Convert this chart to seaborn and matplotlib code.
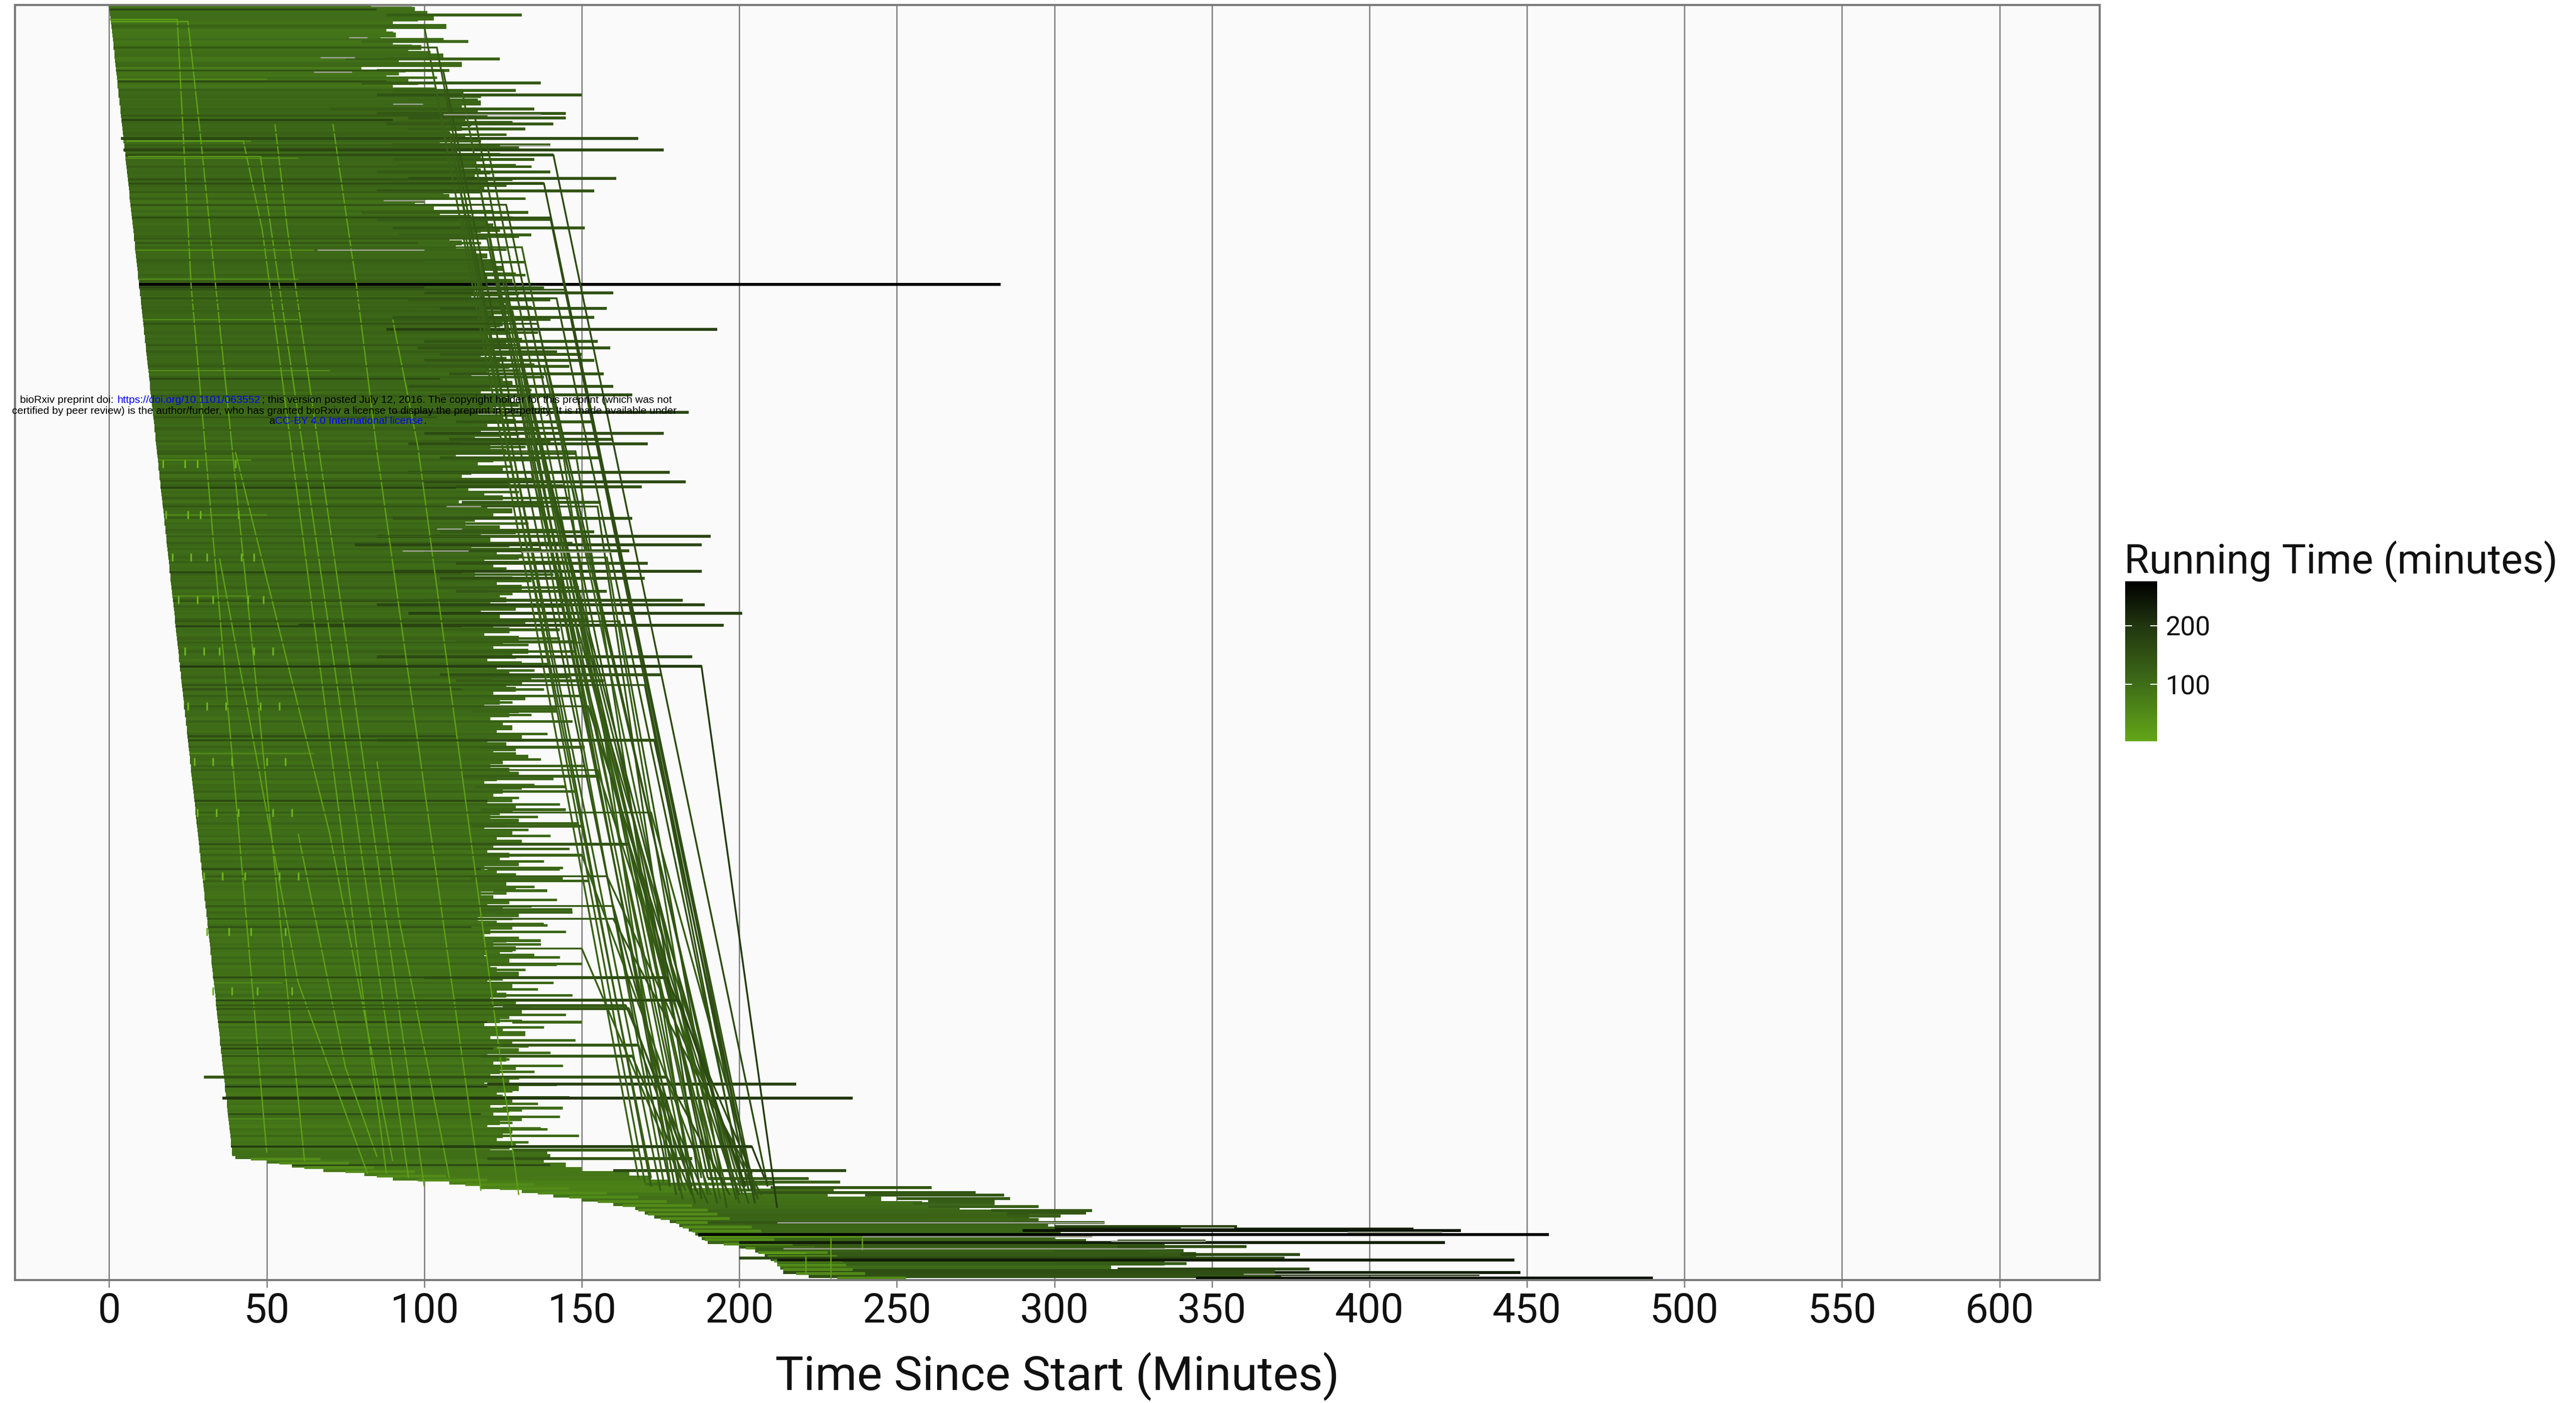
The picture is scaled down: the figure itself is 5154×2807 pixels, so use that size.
import numpy as np
import pandas as pd
import matplotlib
matplotlib.use("Agg")
import matplotlib.pyplot as plt
from matplotlib.colors import LinearSegmentedColormap, Normalize
from matplotlib.cm import ScalarMappable
import seaborn as sns

# Each queue row: when its first task started and where the solid part ends (minutes)
body_start = [
    0.0, 0.1, 0.3, 0.4, 0.6, 0.7, 0.9, 1.0, 1.2, 1.3, 1.4, 1.6, 1.7, 1.9, 2.0, 2.2, 2.3, 2.5, 2.6, 2.7,
    2.9, 3.0, 3.2, 3.3, 3.5, 3.6, 3.8, 3.9, 4.0, 4.2, 4.3, 4.5, 4.6, 4.8, 4.9, 5.1, 5.2, 5.3, 5.5, 5.6,
    5.8, 5.9, 6.1, 6.2, 6.4, 6.5, 6.6, 6.8, 6.9, 7.1, 7.2, 7.4, 7.5, 7.7, 7.8, 7.9, 8.1, 8.2, 8.4, 8.5,
    8.7, 8.8, 9.0, 9.1, 9.2, 9.4, 9.5, 9.7, 9.8, 10.0, 10.1, 10.3, 10.4, 10.5, 10.7, 10.8, 11.0, 11.1, 11.3, 11.4,
    11.6, 11.7, 11.8, 12.0, 12.1, 12.3, 12.4, 12.6, 12.7, 12.9, 13.0, 13.1, 13.3, 13.4, 13.6, 13.7, 13.9, 14.0, 14.2, 14.3,
    14.4, 14.6, 14.7, 14.9, 15.0, 15.2, 15.3, 15.5, 15.6, 15.7, 15.9, 16.0, 16.2, 16.3, 16.5, 16.6, 16.8, 16.9, 17.0, 17.2,
    17.3, 17.5, 17.6, 17.8, 17.9, 18.1, 18.2, 18.3, 18.5, 18.6, 18.8, 18.9, 19.1, 19.2, 19.4, 19.5, 19.6, 19.8, 19.9, 20.1,
    20.2, 20.4, 20.5, 20.7, 20.8, 20.9, 21.1, 21.2, 21.4, 21.5, 21.7, 21.8, 22.0, 22.1, 22.2, 22.4, 22.5, 22.7, 22.8, 23.0,
    23.1, 23.3, 23.4, 23.5, 23.7, 23.8, 24.0, 24.1, 24.3, 24.4, 24.6, 24.7, 24.8, 25.0, 25.1, 25.3, 25.4, 25.6, 25.7, 25.9,
    26.0, 26.1, 26.3, 26.4, 26.6, 26.7, 26.9, 27.0, 27.2, 27.3, 27.4, 27.6, 27.7, 27.9, 28.0, 28.2, 28.3, 28.5, 28.6, 28.7,
    28.9, 29.0, 29.2, 29.3, 29.5, 29.6, 29.8, 29.9, 30.0, 30.2, 30.3, 30.5, 30.6, 30.8, 30.9, 31.1, 31.2, 31.3, 31.5, 31.6,
    31.8, 31.9, 32.1, 32.2, 32.4, 32.5, 32.6, 32.8, 32.9, 33.1, 33.2, 33.4, 33.5, 33.7, 33.8, 33.9, 34.1, 34.2, 34.4, 34.5,
    34.7, 34.8, 35.0, 35.1, 35.2, 35.4, 35.5, 35.7, 35.8, 36.0, 36.1, 36.3, 36.4, 36.5, 36.7, 36.8, 37.0, 37.1, 37.3, 37.4,
    37.6, 37.7, 37.8, 38.0, 38.1, 38.3, 38.4, 38.6, 38.7, 38.9, 39.0, 40.0, 50.0, 58.0, 68.0, 81.0, 90.0, 108.0, 118.0, 131.0,
    141.0, 150.0, 160.0, 167.0, 170.0, 173.0, 178.0, 181.0, 184.0, 186.0, 188.0, 190.0, 200.0, 205.0, 208.0, 210.0, 212.0, 213.0, 214.0, 222.0,
    240.0,
]
body_end = [
    96, 97, 101, 103, 90, 107, 88, 91, 86, 90, 99, 95, 106, 92, 112, 80, 92, 88, 95, 90,
    104, 112, 108, 118, 112, 117, 108, 113, 115, 112, 108, 113, 105, 110, 108, 110, 118, 116, 112, 118,
    116, 120, 115, 119, 106, 108, 100, 97, 103, 105, 115, 120, 122, 118, 116, 108, 112, 110, 116, 120,
    118, 122, 125, 119, 120, 128, 120, 116, 124, 115, 124, 126, 118, 122, 128, 125, 121, 127, 120, 123,
    126, 122, 128, 118, 124, 127, 120, 115, 125, 128, 121, 118, 123, 127, 130, 122, 117, 125, 129, 120,
    118, 124, 116, 112, 121, 126, 110, 122, 117, 125, 115, 112, 123, 127, 114, 119, 125, 111, 120, 128,
    122, 116, 113, 124, 129, 118, 121, 127, 115, 123, 130, 119, 122, 125, 116, 128, 123, 131, 120, 124,
    126, 121, 129, 118, 124, 132, 122, 127, 119, 130, 125, 122, 133, 128, 120, 131, 123, 127, 134, 121,
    126, 129, 122, 132, 124, 119, 130, 127, 121, 125, 128, 123, 131, 120, 126, 129, 122, 133, 125, 121,
    127, 130, 123, 119, 131, 125, 122, 128, 120, 129, 124, 121, 130, 126, 119, 128, 123, 131, 122, 120,
    127, 124, 130, 119, 123, 128, 121, 126, 129, 118, 122, 127, 120, 125, 130, 117, 123, 128, 121, 119,
    126, 122, 129, 124, 119, 127, 121, 123, 130, 125, 120, 128, 123, 126, 121, 129, 122, 131, 127, 124,
    119, 125, 132, 121, 128, 123, 130, 120, 126, 122, 129, 124, 121, 127, 119, 130, 123, 125, 128, 121,
    127, 122, 131, 124, 120, 128, 125, 123, 129, 121, 139, 140, 138, 145, 150, 165, 172, 178, 185, 200,
    228, 245, 258, 270, 285, 292, 295, 298, 300, 302, 300, 310, 335, 330, 345, 340, 335, 318, 370, 372,
    245,
]

# Thinner full rows between the solid ones, these make the frayed right side
fringe_end = [
    92, 100, 98, 104, 90, 106, 96, 102, 88, 110, 94, 104, 98, 112,
    118, 112, 124, 120, 128, 122, 126, 118, 130, 124, 119, 134, 121, 128,
    126, 118, 132, 114, 122, 128, 112, 124, 130, 118, 126, 116, 132,
    125, 132, 128, 138, 130, 126, 134, 128, 140, 124, 136, 131, 128, 142, 126, 135, 130, 138, 128, 134, 141, 127, 136, 132, 126, 143, 130,
    140, 132, 148, 136, 128, 152, 135, 144, 130, 146, 138, 127, 150, 133, 142, 129, 147, 137, 131, 145,
    126, 141, 134, 149, 128, 139, 144, 130, 152, 136, 127, 143, 133, 148, 129, 140, 135, 146, 131, 138,
    150, 128, 142, 134, 147, 126, 139, 132, 145, 129, 137, 151, 127, 141, 135, 148, 130, 143, 128, 136,
    149, 133, 140, 127, 146, 131, 138, 144, 129, 152, 135, 126, 142, 134, 147, 128, 139, 145, 130, 137,
    128, 143, 150, 132, 127, 141, 136, 147, 129, 134, 145, 131, 138, 126, 148, 133, 140, 127, 144, 135,
    130, 142, 128, 146, 136, 131, 143, 128, 139, 149, 133, 127, 137,
]

# Rows that stick out past the solid part
tip_rank = [
    2.4, 8.6, 12.7, 15.4, 18.3, 20.1, 21.2, 22.4, 24.5, 25.5, 26.6, 28.0, 29.2, 31.4, 32.9, 34.1, 35.3, 36.3, 37.7, 39.3,
    40.8, 42.0, 43.7, 48.8, 50.5, 52.5, 54.1, 60.3, 63.3, 65.7, 67.7, 69.4, 71.4, 73.5, 76.3, 79.2, 80.7, 82.2, 83.6, 85.0,
    86.8, 89.7, 91.7, 95.9, 98.1, 100.8, 102.2, 103.2, 106.5, 110.0, 112.2, 113.4, 117.0, 120.8, 123.9, 125.0, 127.0, 128.4, 131.4, 133.3,
    134.9, 138.0, 140.1, 141.1, 143.1, 146.0, 147.0, 149.8, 153.4, 155.6, 157.6, 159.0, 166.2, 173.0, 174.6, 181.5, 183.9, 189.3, 193.2, 197.4,
    200.0, 203.3, 205.6, 208.4, 212.9, 216.3, 220.2, 223.6, 225.8, 228.8, 234.2, 235.4, 236.2, 239.3, 244.7, 247.3, 252.2, 253.9, 257.2, 259.6,
    264.4, 268.6, 269.4, 271.4, 274.3, 276.1, 276.9, 277.4, 278.2, 278.8, 279.4, 280.0, 280.8, 281.4, 282.0, 282.7, 283.7, 284.3, 284.9, 285.9,
    286.5, 287.4, 288.0, 288.4, 289.3, 290.8, 291.2, 292.1, 292.6, 293.1, 294.0, 294.8, 295.3, 296.1, 297.4, 298.2, 298.7, 299.5,
]
tip_start = [
    88, 80, 75, 85, 80, 90, 85, 95, 70, 85, 95, 88, 95, 3.8, 90, 4.5, 70, 90, 92, 85,
    95, 90, 85, 80, 85, 90, 92, 100, 105, 9.5, 100, 95, 105, 90, 88, 100, 98, 105, 100, 92,
    108, 95, 105, 90, 110, 100, 108, 95, 105, 95, 100, 110, 112, 90, 105, 85, 78, 100, 110, 90,
    105, 110, 100, 85, 95, 60, 105, 110, 85, 70, 105, 110, 115, 85, 118, 112, 116, 118, 115, 85,
    118, 120, 115, 122, 118, 120, 122, 120, 118, 100, 110, 125, 122, 128, 125, 118, 30, 120, 36, 125,
    120, 105, 128, 120, 160, 190, 200, 170, 210, 200, 205, 240, 250, 260, 255, 260, 280, 285, 285, 260,
    190, 300, 300, 290, 187, 320, 200, 320, 205, 300, 340, 200, 212, 300, 320, 370, 370, 345,
]
tip_end = [
    131, 114, 124, 108, 137, 129, 150, 117, 135, 145, 145, 141, 132, 168, 140, 176, 141, 135, 129, 140,
    161, 138, 154, 133, 140, 151, 134, 122, 129, 283, 160, 140, 158, 154, 193, 155, 159, 150, 154, 146,
    157, 160, 166, 184, 154, 176, 160, 171, 156, 178, 183, 169, 156, 166, 154, 191, 188, 165, 171, 188,
    170, 158, 182, 189, 201, 195, 143, 147, 185, 188, 175, 157, 142, 173, 151, 155, 145, 145, 150, 165,
    150, 143, 144, 139, 147, 138, 137, 135, 142, 177, 181, 164, 165, 150, 168, 166, 177, 218, 236, 144,
    137, 204, 168, 185, 234, 222, 232, 211, 261, 230, 275, 284, 286, 281, 281, 295, 312, 310, 302, 287,
    316, 358, 414, 429, 457, 348, 424, 361, 335, 341, 378, 373, 446, 342, 381, 448, 435, 490,
]

# Dark and light rows that show up as stripes in the body
stripe_rank = [1, 10, 18, 27, 41, 47, 56, 66.5, 72, 88, 97, 113.6, 133.5, 140.2, 146.2, 155.7, 161, 172, 187.2, 197.5,
               203.3, 217, 239.3, 245.6, 252.2, 254.5, 261, 268.6, 273]
stripe_end = [85, 80, 88, 90, 95, 88, 98, 100, 96, 105, 104, 110, 112, 115, 112, 118, 112, 110, 120, 122,
              118, 115, 120, 122, 118, 120, 118, 128, 140]
stripe_running = [170, 150, 165, 180, 150, 160, 140, 175, 150, 165, 145, 180, 175, 170, 180, 190, 150, 160, 170, 175,
                  165, 150, 175, 170, 185, 190, 160, 180, 170]
light_rank = [17.4, 32, 36, 57.6, 64.4, 74, 86, 107, 120, 139, 165, 176, 215, 230, 262]
light_end = [50, 45, 60, 65, 60, 60, 70, 45, 50, 45, 55, 65, 70, 55, 60]

# Lower edge of the staircase, rows that only just started
edge_rank = [271.5, 272.5, 273.5, 274.5, 275.5, 276.5, 277.5, 278.5, 279.5, 280.5, 281.5, 282.5, 283.5, 284.5, 285.5,
             286.5, 287.5, 288.5, 289.5, 290.5, 291.5, 292.5, 293.5, 294.5, 295.5, 296.5, 297.5, 298.5, 299.5]
edge_start = [45, 54, 62, 75, 85, 98, 113, 124, 136, 146, 155, 163, 168, 171, 175,
              180, 182, 185, 187, 189, 195, 202, 206, 209, 211, 212, 214, 218, 231]

# Retried jobs: run along their row, then step down the queue
bundle_corner_x = [
    106, 141, 138, 118, 140, 122, 145, 142, 188, 173, 165, 177, 181, 164, 165, 168, 166, 177, 204,
    108, 110, 112, 120, 125, 128, 130, 133, 136, 140, 143, 146, 150, 152, 155, 158, 160, 150,
    100, 104, 112, 116, 120, 126, 131, 136, 138, 142, 148, 155, 158, 162, 170, 172, 126, 134, 150, 160,
]
bundle_corner_rank = [
    15.4, 35.3, 42, 44, 50, 60, 67, 69, 155.6, 173, 197.4, 228.8, 234.2, 235.4, 236.2, 244.7, 247.3, 252.2, 268.6,
    30, 38, 50, 55, 65, 72, 80, 92, 100, 112, 125, 140, 150, 165, 180, 205, 215, 222,
    5, 10, 20, 26, 33, 47, 57, 75, 85, 95, 105, 118, 130, 145, 160, 190, 70, 110, 200, 212,
]
bundle_end_x = [
    178, 209, 204, 181, 203, 186, 205, 202, 212, 205, 200, 204, 202, 190, 187, 185, 185, 197, 208,
    170, 175, 172, 182, 190, 184, 193, 196, 188, 199, 192, 201, 195, 203, 198, 206, 207, 183,
    168, 172, 176, 180, 186, 190, 194, 198, 200, 178, 185, 188, 192, 196, 201, 206, 182, 193, 191, 186,
]
bundle_end_rank = [
    278, 278, 279, 279, 279, 279, 280, 280, 283, 282, 280, 275, 278, 282, 280, 278, 280, 280, 276,
    277, 279, 276, 281, 280, 278, 282, 279, 276, 281, 278, 280, 279, 282, 277, 281, 280, 279,
    276, 278, 277, 280, 279, 276, 281, 278, 282, 277, 280, 281, 279, 283, 278, 281, 278, 277, 280, 282,
]
bundle_running = [
    145, 160, 160, 135, 155, 130, 150, 150, 190, 160, 145, 165, 170, 140, 145, 140, 143, 155, 190,
    125, 130, 120, 135, 130, 125, 140, 135, 125, 145, 130, 135, 130, 140, 130, 135, 140, 125,
    120, 135, 125, 140, 130, 145, 125, 150, 135, 120, 130, 145, 125, 140, 150, 130, 120, 135, 125, 140,
]

# Short jobs that got re-run early, in the light part of the scale
lime_x = [
    [0, 21.6, 26, 50],
    [0.6, 25, 29, 62],
    [5.4, 42.6, 48.6, 53.5, 88],
    [6, 48, 54, 95],
    [52.6, 56.6, 100],
    [71, 78.5, 85, 118],
    [90, 98, 130],
    [40, 70, 90],
    [35, 60, 82],
    [85, 92, 108],
    [60, 75, 85],
    [229, 229],
    [221, 221],
    [239, 239],
    [188, 240],
    [207, 221],
]
lime_rank = [
    [3.4, 3.4, 66, 270],
    [3.9, 3.9, 31, 272],
    [32, 32, 53, 80, 275],
    [35.6, 35.6, 66, 276],
    [28, 53, 278],
    [28, 66, 105, 279],
    [74, 104, 280],
    [105, 195, 272],
    [130, 230, 275],
    [178, 215, 276],
    [195, 250, 271],
    [290, 299.6],
    [294.5, 298.4],
    [290, 293],
    [289.8, 289.8],
    [293.7, 293.7],
]

dash_x = [
    17, 24, 28, 40, 18, 25, 29, 41, 20, 26, 31, 42, 46, 22, 28, 33, 44, 49, 24, 30, 35, 46, 52, 25, 31, 37, 48, 54,
    27, 33, 39, 50, 56, 28, 34, 41, 52, 58, 30, 36, 43, 54, 60, 31, 38, 45, 56, 33, 39, 47, 58,
]
dash_rank = [
    108, 108, 108, 108, 120, 120, 120, 120, 130, 130, 130, 130, 130, 140, 140, 140, 140, 140, 152, 152, 152, 152, 152, 165, 165, 165, 165, 165,
    178, 178, 178, 178, 178, 190, 190, 190, 190, 190, 205, 205, 205, 205, 205, 218, 218, 218, 218, 232, 232, 232, 232,
]

# Thin washed out stretches at the ends of rows
pale_rank = [0.2, 12.3, 15.7, 7.6, 23.3, 25.8, 33, 57.6, 46, 128.4, 128.7, 118, 123.3, 286.5, 292.6, 289.8, 287.6, 288.7, 290.8, 298.6]
pale_start = [83, 67, 65, 76, 90, 106, 124, 66, 87, 93, 131, 107, 104, 212, 214, 239, 340, 393, 318, 360]
pale_end = [96, 78, 77, 82, 99.5, 137, 140, 100, 100, 114, 159, 118, 112, 316, 335, 312, 357, 423, 348, 435]

x_ticks = list(range(0, 601, 50))
legend_ticks = [100, 200]

W, H = 5154, 2807
sns.set_theme(style="white")
plt.rcParams["font.family"] = ["Roboto", "DejaVu Sans"]

cmap = LinearSegmentedColormap.from_list(
    "running", [(0, "#63a618"), (0.357, "#3f6d18"), (0.724, "#21360f"), (1, "#000000")]
)
norm = Normalize(3.4, 275.6)

fig = plt.figure(figsize=(W / 100, H / 100), dpi=100, facecolor="white")
ax = fig.add_axes([30 / W, 1 - 2561 / H, (4201 - 30) / W, (2561 - 10) / H])
ax.set_facecolor("#fafafa")


def path_frame(xs, ranks, running):
    return pd.DataFrame({
        "x": [v for p in xs for v in p],
        "rank": [v for p in ranks for v in p],
        "job": [i for i, p in enumerate(xs) for _ in p],
        "running": [r for r, p in zip(running, xs) for _ in p],
    })


def draw(df, lw):
    sns.lineplot(data=df, x="x", y="rank", units="job", hue="running", estimator=None, sort=False,
                 palette=cmap, hue_norm=norm, legend=False, linewidth=lw, solid_capstyle="butt",
                 solid_joinstyle="miter", ax=ax)


def row_start(r):
    return body_start[int(r)]


rows = range(len(body_start))
draw(path_frame([[body_start[i], body_end[i]] for i in rows], [[i, i] for i in rows],
                [body_end[i] - body_start[i] for i in rows]), 7.2)

fringe_rank = [0.5 + 1.5 * i for i in range(len(fringe_end))]
draw(path_frame([[row_start(r), e] for r, e in zip(fringe_rank, fringe_end)], [[r, r] for r in fringe_rank],
                [e - row_start(r) for r, e in zip(fringe_rank, fringe_end)]), 3.6)

draw(path_frame([[row_start(r), e] for r, e in zip(stripe_rank, stripe_end)], [[r, r] for r in stripe_rank],
                stripe_running), 2.6)
draw(path_frame([[row_start(r), e] for r, e in zip(light_rank, light_end)], [[r, r] for r in light_rank],
                [55] * len(light_rank)), 2.2)
draw(path_frame([[s, s + 22] for s in edge_start], [[r, r] for r in edge_rank], [50] * len(edge_rank)), 4.0)

tip_running = [e - body_start[int(round(r))] for r, e in zip(tip_rank, tip_end)]
draw(path_frame([[s, e] for s, e in zip(tip_start, tip_end)], [[r, r] for r in tip_rank], tip_running), 4.2)

draw(path_frame(lime_x, lime_rank, [12] * len(lime_x)), 1.9)
sns.scatterplot(x=dash_x, y=dash_rank, marker="|", s=130, color="#6db41f", linewidth=2.4, ax=ax, zorder=3)

draw(path_frame([[row_start(r), c, e] for r, c, e in zip(bundle_corner_rank, bundle_corner_x, bundle_end_x)],
                [[r, r, e] for r, e in zip(bundle_corner_rank, bundle_end_rank)], bundle_running), 2.6)

for r, s, e in zip(pale_rank, pale_start, pale_end):
    ax.plot([s, e], [r, r], color="#9aa08f", lw=2.0, solid_capstyle="butt", zorder=4)

ax.set_xlim(-29.9, 631.8)
ax.set_ylim(300, 0)
ax.set_xticks(x_ticks)
ax.set_yticks([])
ax.set_ylabel("")
ax.grid(axis="x", color="#808080", linewidth=1.9)
ax.set_axisbelow(True)
ax.tick_params(axis="x", length=11, width=1.9, color="#808080", labelsize=59, pad=6, bottom=True, labelcolor="#111111")
ax.set_xlabel("Time Since Start (Minutes)", fontsize=68.6, labelpad=30, color="#111111")
for s in ax.spines.values():
    s.set_visible(True)
    s.set_color("#777777")
    s.set_linewidth(3)

# colour legend, pixel box
cax = fig.add_axes([4252 / W, 1 - 1483 / H, 64 / W, 320 / H])
cb = fig.colorbar(ScalarMappable(norm=norm, cmap=cmap), cax=cax)
cb.outline.set_visible(False)
cb.set_ticks(legend_ticks)
cax.tick_params(length=0, labelsize=38.5, pad=12, labelcolor="#111111")
for t in legend_ticks:
    cax.plot([0, 0.2], [t, t], color="white", lw=1.5, transform=cax.get_yaxis_transform())
    cax.plot([0.8, 1], [t, t], color="white", lw=1.5, transform=cax.get_yaxis_transform())
fig.text(4250 / W, 1 - 1147 / H, "Running Time (minutes)", fontsize=58.6, color="#111111", va="baseline")

# preprint stamp that sits over the chart
stamp = [
    (40, 800, "black", "bioRxiv preprint doi:"),
    (234, 800, "blue", "https://doi.org/10.1101/063552"),
    (524, 800, "black", "; this version posted July 12, 2016. The copyright holder for this preprint (which was not"),
    (24, 822, "black", "certified by peer review) is the author/funder, who has granted bioRxiv a license to display the preprint in perpetuity. It is made available under"),
    (538, 842, "black", "a"),
    (550, 842, "blue", "CC-BY 4.0 International license"),
    (848, 842, "black", "."),
]
for x, y, c, s in stamp:
    fig.text(x / W, 1 - y / H, s, color=c, fontsize=15.3, family="Liberation Sans", va="center", zorder=10)

fig.savefig("out.png", dpi=100, facecolor="white")
